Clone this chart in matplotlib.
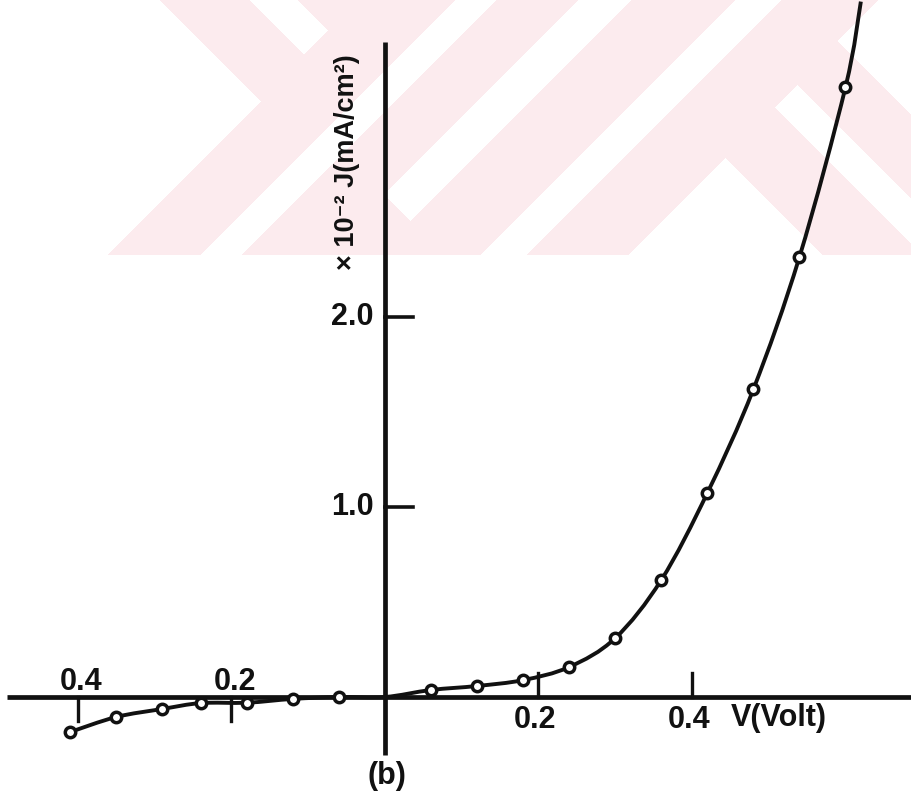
import numpy as np
import matplotlib
matplotlib.use("Agg")
import matplotlib.pyplot as plt
from matplotlib.path import Path
from matplotlib.patches import PathPatch

# forward and reverse bias J-V data
v_rev = [-0.41, -0.35, -0.29, -0.24, -0.18, -0.12, -0.06]
j_rev = [-0.184, -0.105, -0.063, -0.032, -0.030, -0.010, 0.0]
v_fwd = [0.06, 0.12, 0.18, 0.24, 0.30, 0.36, 0.42, 0.48, 0.54, 0.60]
j_fwd = [0.037, 0.058, 0.089, 0.158, 0.31, 0.616, 1.074, 1.62, 2.316, 3.21]
v_tail = 0.62
j_tail = 3.66

x_ticks = [-0.4, -0.2, 0.2, 0.4]
x_tick_labels = ["0.4", "0.2", "0.2", "0.4"]
y_ticks = [1.0, 2.0]
y_tick_labels = ["1.0", "2.0"]

W, H = 912, 796
fig = plt.figure(figsize=(W / 100, H / 100), dpi=100)

# pale pink stripes across the top of the page
yy, xx = np.mgrid[0:H, 0:W]
s = xx + yy
d = xx - yy
pink = yy < 255
white = (xx < np.minimum(160 + yy, 362 - yy))
white |= (d >= 250) & (d <= 297) & (s <= 357)
white |= (s >= 455) & (s <= 495)
white |= (s >= 578) & (s <= 630) & (d >= 190)
white |= (s >= 735) & (s <= 780)
white |= (yy - 158 >= np.abs(xx - 725))
white |= (d >= 668) & (d <= 712) & (s >= 882)
white |= (s >= 878) & (d >= 797)
bg = np.ones((H, W, 3))
bg[pink & ~white] = np.array([252, 235, 238]) / 255
fig.figimage(bg, xo=0, yo=0, origin="upper", zorder=-10)

ax = fig.add_axes([0, 0, 1, 1])
ax.set_zorder(5)
ax.patch.set_alpha(0)
x0, ppv = 385, 767.5   # pixel of V=0, pixels per volt
y0, ppj = 697, 190     # pixel of J=0, pixels per unit
ax.set_xlim(-x0 / ppv, (W - x0) / ppv)
ax.set_ylim((y0 - H) / ppj, y0 / ppj)
ax.axis("off")

k = "#111111"
lw_ax = 3.4
# axes
ax.plot([-0.4925, 0.69], [0, 0], color=k, lw=lw_ax, solid_capstyle="butt")
ax.plot([0, 0], [-0.305, 3.447], color=k, lw=lw_ax, solid_capstyle="butt")

# ticks: up on the forward side, down on the reverse side
for xt in x_ticks:
    if xt > 0:
        ax.plot([xt, xt], [0, 0.125], color=k, lw=2.4)
    else:
        ax.plot([xt, xt], [0, -0.125], color=k, lw=2.4)
for yt in y_ticks:
    ax.plot([0, 0.036], [yt, yt], color=k, lw=2.6)

fam = ["Liberation Sans Narrow", "Liberation Sans", "DejaVu Sans"]
fs = 22
tkw = dict(fontsize=fs, fontweight="bold", family=fam, color=k,
           fontstretch="condensed")
for xt, lab in zip(x_ticks, x_tick_labels):
    if xt > 0:
        ax.text(xt - 0.004, -0.121, lab, ha="center", va="center", **tkw)
    else:
        ax.text(xt + 0.004, 0.079, lab, ha="center", va="center", **tkw)
for yt, lab in zip(y_ticks, y_tick_labels):
    ax.text(-0.015, yt, lab, ha="right", va="center", **tkw)

ax.text(0.513, -0.11, "V(Volt)", ha="center", va="center", **tkw)
ax.text(0.002, -0.415, "(b)", ha="center", va="center", **tkw)
ax.text(-0.0495, 2.816, "× 10⁻² J(mA/cm²)", rotation=90,
        ha="center", va="center", fontsize=19.5, fontweight="bold",
        family=fam, color=k, fontstretch="condensed")

# smooth curve through the points (Catmull-Rom as cubic Bezier)
cv = np.array(v_rev + [0.0] + v_fwd + [v_tail])
cj = np.array(j_rev + [0.0] + j_fwd + [j_tail])
pts = np.column_stack([cv, cj])
pts = np.vstack([pts[0], pts, pts[-1]])
verts = [pts[1]]
codes = [Path.MOVETO]
for i in range(1, len(pts) - 2):
    p0, p1, p2, p3 = pts[i - 1], pts[i], pts[i + 1], pts[i + 2]
    verts += [p1 + (p2 - p0) / 6, p2 - (p3 - p1) / 6, p2]
    codes += [Path.CURVE4] * 3
ax.add_patch(PathPatch(Path(verts, codes), fill=False, edgecolor=k, lw=2.8))

ax.plot(v_rev + v_fwd, j_rev + j_fwd, "o", ms=7.5, mfc="white", mec=k, mew=2.5,
        zorder=5)

fig.savefig("out.png", dpi=100)
